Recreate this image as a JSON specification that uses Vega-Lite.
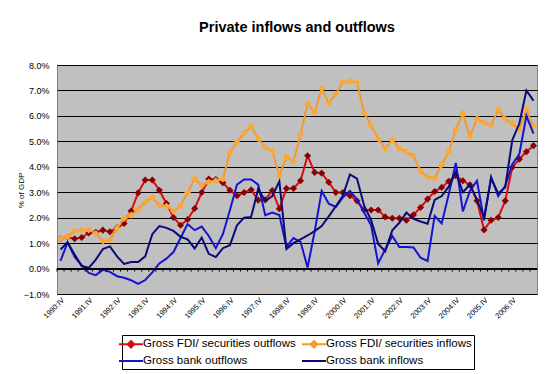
{
  "$schema": "https://vega.github.io/schema/vega-lite/v6.json",
  "width": 480,
  "height": 229,
  "autosize": {"type": "none"},
  "padding": {"left": 57, "top": 65, "right": 10, "bottom": 80},
  "background": "white",
  "title": {"text": "Private inflows and outflows", "font": "Liberation Sans", "fontSize": 14.5, "fontWeight": "bold", "color": "black", "anchor": "middle", "offset": 26},
  "data": {"values": [
    {"quarter": "1990:IV", "fdi_out": 1.17, "fdi_in": 1.17, "bank_out": 0.30, "bank_in": 0.75},
    {"quarter": "1991:I", "fdi_out": 1.24, "fdi_in": 1.25, "bank_out": 1.03, "bank_in": 1.03},
    {"quarter": "1991:II", "fdi_out": 1.17, "fdi_in": 1.48, "bank_out": 0.46, "bank_in": 0.55},
    {"quarter": "1991:III", "fdi_out": 1.22, "fdi_in": 1.52, "bank_out": 0.13, "bank_in": 0.10},
    {"quarter": "1991:IV", "fdi_out": 1.40, "fdi_in": 1.52, "bank_out": -0.17, "bank_in": 0.03},
    {"quarter": "1992:I", "fdi_out": 1.43, "fdi_in": 1.38, "bank_out": -0.26, "bank_in": 0.35},
    {"quarter": "1992:II", "fdi_out": 1.51, "fdi_in": 1.08, "bank_out": -0.05, "bank_in": 0.77},
    {"quarter": "1992:III", "fdi_out": 1.45, "fdi_in": 1.12, "bank_out": -0.13, "bank_in": 0.87},
    {"quarter": "1992:IV", "fdi_out": 1.60, "fdi_in": 1.58, "bank_out": -0.30, "bank_in": 0.48},
    {"quarter": "1993:I", "fdi_out": 1.77, "fdi_in": 1.97, "bank_out": -0.36, "bank_in": 0.18},
    {"quarter": "1993:II", "fdi_out": 2.26, "fdi_in": 2.10, "bank_out": -0.46, "bank_in": 0.26},
    {"quarter": "1993:III", "fdi_out": 2.98, "fdi_in": 2.33, "bank_out": -0.60, "bank_in": 0.26},
    {"quarter": "1993:IV", "fdi_out": 3.48, "fdi_in": 2.62, "bank_out": -0.45, "bank_in": 0.48},
    {"quarter": "1994:I", "fdi_out": 3.48, "fdi_in": 2.78, "bank_out": -0.15, "bank_in": 1.35},
    {"quarter": "1994:II", "fdi_out": 3.08, "fdi_in": 2.49, "bank_out": 0.20, "bank_in": 1.67},
    {"quarter": "1994:III", "fdi_out": 2.56, "fdi_in": 2.45, "bank_out": 0.39, "bank_in": 1.60},
    {"quarter": "1994:IV", "fdi_out": 2.01, "fdi_in": 2.25, "bank_out": 0.65, "bank_in": 1.48},
    {"quarter": "1995:I", "fdi_out": 1.70, "fdi_in": 2.47, "bank_out": 1.20, "bank_in": 1.25},
    {"quarter": "1995:II", "fdi_out": 1.93, "fdi_in": 2.98, "bank_out": 1.75, "bank_in": 1.15},
    {"quarter": "1995:III", "fdi_out": 2.36, "fdi_in": 3.54, "bank_out": 1.51, "bank_in": 0.79},
    {"quarter": "1995:IV", "fdi_out": 2.99, "fdi_in": 3.26, "bank_out": 1.65, "bank_in": 1.22},
    {"quarter": "1996:I", "fdi_out": 3.52, "fdi_in": 3.40, "bank_out": 1.28, "bank_in": 0.58},
    {"quarter": "1996:II", "fdi_out": 3.50, "fdi_in": 3.45, "bank_out": 0.80, "bank_in": 0.45},
    {"quarter": "1996:III", "fdi_out": 3.37, "fdi_in": 3.52, "bank_out": 1.35, "bank_in": 0.80},
    {"quarter": "1996:IV", "fdi_out": 3.08, "fdi_in": 4.57, "bank_out": 2.30, "bank_in": 0.92},
    {"quarter": "1997:I", "fdi_out": 2.86, "fdi_in": 4.96, "bank_out": 3.30, "bank_in": 1.70},
    {"quarter": "1997:II", "fdi_out": 2.99, "fdi_in": 5.33, "bank_out": 3.50, "bank_in": 2.00},
    {"quarter": "1997:III", "fdi_out": 3.10, "fdi_in": 5.57, "bank_out": 3.50, "bank_in": 2.03},
    {"quarter": "1997:IV", "fdi_out": 2.69, "fdi_in": 5.10, "bank_out": 3.30, "bank_in": 3.13},
    {"quarter": "1998:I", "fdi_out": 2.70, "fdi_in": 4.76, "bank_out": 2.10, "bank_in": 2.65},
    {"quarter": "1998:II", "fdi_out": 3.07, "fdi_in": 4.62, "bank_out": 2.20, "bank_in": 2.85},
    {"quarter": "1998:III", "fdi_out": 2.35, "fdi_in": 3.66, "bank_out": 2.10, "bank_in": 3.43},
    {"quarter": "1998:IV", "fdi_out": 3.15, "fdi_in": 4.38, "bank_out": 0.85, "bank_in": 0.77},
    {"quarter": "1999:I", "fdi_out": 3.15, "fdi_in": 4.22, "bank_out": 1.20, "bank_in": 1.00},
    {"quarter": "1999:II", "fdi_out": 3.45, "fdi_in": 5.27, "bank_out": 1.05, "bank_in": 1.15},
    {"quarter": "1999:III", "fdi_out": 4.43, "fdi_in": 6.47, "bank_out": 0.04, "bank_in": 1.30},
    {"quarter": "1999:IV", "fdi_out": 3.78, "fdi_in": 6.15, "bank_out": 1.45, "bank_in": 1.47},
    {"quarter": "2000:I", "fdi_out": 3.75, "fdi_in": 7.07, "bank_out": 3.05, "bank_in": 1.67},
    {"quarter": "2000:II", "fdi_out": 3.39, "fdi_in": 6.51, "bank_out": 2.55, "bank_in": 2.05},
    {"quarter": "2000:III", "fdi_out": 2.99, "fdi_in": 6.86, "bank_out": 2.42, "bank_in": 2.45},
    {"quarter": "2000:IV", "fdi_out": 2.99, "fdi_in": 7.33, "bank_out": 2.80, "bank_in": 2.86},
    {"quarter": "2001:I", "fdi_out": 2.86, "fdi_in": 7.36, "bank_out": 3.05, "bank_in": 3.70},
    {"quarter": "2001:II", "fdi_out": 2.66, "fdi_in": 7.31, "bank_out": 2.72, "bank_in": 3.53},
    {"quarter": "2001:III", "fdi_out": 2.30, "fdi_in": 6.12, "bank_out": 2.20, "bank_in": 2.48},
    {"quarter": "2001:IV", "fdi_out": 2.30, "fdi_in": 5.62, "bank_out": 1.70, "bank_in": 1.90},
    {"quarter": "2002:I", "fdi_out": 2.30, "fdi_in": 5.10, "bank_out": 0.20, "bank_in": 0.97},
    {"quarter": "2002:II", "fdi_out": 2.03, "fdi_in": 4.72, "bank_out": 0.76, "bank_in": 0.68},
    {"quarter": "2002:III", "fdi_out": 1.98, "fdi_in": 5.05, "bank_out": 1.28, "bank_in": 1.50},
    {"quarter": "2002:IV", "fdi_out": 1.98, "fdi_in": 4.72, "bank_out": 0.85, "bank_in": 1.80},
    {"quarter": "2003:I", "fdi_out": 1.90, "fdi_in": 4.58, "bank_out": 0.85, "bank_in": 2.20},
    {"quarter": "2003:II", "fdi_out": 2.11, "fdi_in": 4.43, "bank_out": 0.83, "bank_in": 1.95},
    {"quarter": "2003:III", "fdi_out": 2.40, "fdi_in": 3.83, "bank_out": 0.43, "bank_in": 1.85},
    {"quarter": "2003:IV", "fdi_out": 2.73, "fdi_in": 3.60, "bank_out": 0.30, "bank_in": 1.76},
    {"quarter": "2004:I", "fdi_out": 3.03, "fdi_in": 3.55, "bank_out": 2.07, "bank_in": 2.70},
    {"quarter": "2004:II", "fdi_out": 3.19, "fdi_in": 4.08, "bank_out": 1.77, "bank_in": 2.85},
    {"quarter": "2004:III", "fdi_out": 3.43, "fdi_in": 4.60, "bank_out": 2.92, "bank_in": 3.22},
    {"quarter": "2004:IV", "fdi_out": 3.65, "fdi_in": 5.47, "bank_out": 4.15, "bank_in": 3.80},
    {"quarter": "2005:I", "fdi_out": 3.45, "fdi_in": 6.10, "bank_out": 2.25, "bank_in": 3.00},
    {"quarter": "2005:II", "fdi_out": 3.29, "fdi_in": 5.18, "bank_out": 3.05, "bank_in": 3.30},
    {"quarter": "2005:III", "fdi_out": 2.66, "fdi_in": 5.89, "bank_out": 3.45, "bank_in": 2.70},
    {"quarter": "2005:IV", "fdi_out": 1.52, "fdi_in": 5.74, "bank_out": 1.90, "bank_in": 2.00},
    {"quarter": "2006:I", "fdi_out": 1.90, "fdi_in": 5.64, "bank_out": 3.60, "bank_in": 3.55},
    {"quarter": "2006:II", "fdi_out": 2.01, "fdi_in": 6.25, "bank_out": 2.85, "bank_in": 2.95},
    {"quarter": "2006:III", "fdi_out": 2.66, "fdi_in": 5.87, "bank_out": 3.25, "bank_in": 3.20},
    {"quarter": "2006:IV", "fdi_out": 3.98, "fdi_in": 5.70, "bank_out": 4.10, "bank_in": 5.05},
    {"quarter": "2007:I", "fdi_out": 4.30, "fdi_in": 5.46, "bank_out": 4.50, "bank_in": 5.70},
    {"quarter": "2007:II", "fdi_out": 4.59, "fdi_in": 6.25, "bank_out": 6.00, "bank_in": 7.00},
    {"quarter": "2007:III", "fdi_out": 4.83, "fdi_in": 5.58, "bank_out": 5.30, "bank_in": 6.60}
  ]},
  "config": {
    "view": {"fill": "#C0C0C0", "stroke": "#808080", "strokeWidth": 1},
    "axisY": {"domain": false, "ticks": false, "grid": true, "gridColor": "black", "gridOpacity": 1, "gridWidth": 1, "tickCount": 9, "labelFont": "Liberation Sans", "labelFontSize": 9, "labelColor": "black", "labelPadding": 8, "titleFont": "Liberation Sans", "titleFontSize": 8, "titleFontWeight": "normal", "titleColor": "black"},
    "axisX": {"domain": false, "ticks": false, "grid": false, "labelFont": "Liberation Sans", "labelFontSize": 7.5, "labelColor": "black"}
  },
  "layer": [
    {
      "mark": {"type": "line", "strokeWidth": 2},
      "encoding": {
        "x": {"field": "quarter", "type": "ordinal", "sort": null, "title": null,
              "scale": {"type": "band", "paddingInner": 0, "paddingOuter": 0},
              "axis": {"values": ["1990:IV","1991:IV","1992:IV","1993:IV","1994:IV","1995:IV","1996:IV","1997:IV","1998:IV","1999:IV","2000:IV","2001:IV","2002:IV","2003:IV","2004:IV","2005:IV","2006:IV"], "labelAngle": -45, "labelPadding": 2}},
        "y": {"field": "fdi_out", "type": "quantitative", "title": "% of GDP",
              "scale": {"domain": [-1, 8], "nice": false, "zero": false},
              "axis": {"grid": true, "gridColor": "black", "labelExpr": "format(datum.value, '.1f') + '%'", "titleAngle": -90, "titleX": -36, "titleY": 125, "titleAlign": "center", "titleBaseline": "middle"}},
        "color": {"datum": "Gross FDI/ securities outflows", "type": "nominal",
          "scale": {"domain": ["Gross FDI/ securities outflows", "Gross FDI/ securities inflows", "Gross bank outflows", "Gross bank inflows"], "range": ["#D80E0E", "#F39A2A", "#1414D2", "#0A0A78"]},
          "legend": {"title": null, "orient": "none", "legendX": 65, "legendY": 270, "columns": 2, "direction": "horizontal",
            "symbolType": "M-2,0L2,0", "symbolSize": 144, "symbolStrokeWidth": 2,
            "labelFont": "Liberation Sans", "labelFontSize": 11.5, "labelColor": "black", "labelLimit": 400, "labelOffset": 5,
            "columnPadding": 2, "rowPadding": 2, "padding": 2, "strokeColor": "black", "fillColor": "white",
            "encode": {"symbols": {"update": {
              "shape": {"signal": "indexof(datum.value, 'FDI') >= 0 ? 'M-2,0L2,0M0,-0.55L0.55,0L0,0.55L-0.55,0Z' : 'M-2,0L2,0'"},
              "fill": {"signal": "datum.value == 'Gross FDI/ securities outflows' ? '#8B0000' : (datum.value == 'Gross FDI/ securities inflows' ? '#FFA733' : 'transparent')"},
              "fillOpacity": {"value": 1}}}}}}
      }
    },
    {
      "mark": {"type": "point", "shape": "diamond", "filled": true, "size": 50, "color": "#8B0000", "opacity": 1},
      "encoding": {
        "x": {"field": "quarter", "type": "ordinal", "sort": null},
        "y": {"field": "fdi_out", "type": "quantitative", "title": "% of GDP"}
      }
    },
    {
      "mark": {"type": "line", "strokeWidth": 2},
      "encoding": {
        "x": {"field": "quarter", "type": "ordinal", "sort": null},
        "y": {"field": "fdi_in", "type": "quantitative", "title": "% of GDP"},
        "color": {"datum": "Gross FDI/ securities inflows", "type": "nominal"}
      }
    },
    {
      "mark": {"type": "point", "shape": "diamond", "filled": true, "size": 50, "color": "#FFA733", "opacity": 1},
      "encoding": {
        "x": {"field": "quarter", "type": "ordinal", "sort": null},
        "y": {"field": "fdi_in", "type": "quantitative", "title": "% of GDP"}
      }
    },
    {
      "mark": {"type": "line", "strokeWidth": 2},
      "encoding": {
        "x": {"field": "quarter", "type": "ordinal", "sort": null},
        "y": {"field": "bank_out", "type": "quantitative", "title": "% of GDP"},
        "color": {"datum": "Gross bank outflows", "type": "nominal"}
      }
    },
    {
      "mark": {"type": "line", "strokeWidth": 2},
      "encoding": {
        "x": {"field": "quarter", "type": "ordinal", "sort": null},
        "y": {"field": "bank_in", "type": "quantitative", "title": "% of GDP"},
        "color": {"datum": "Gross bank inflows", "type": "nominal"}
      }
    },
    {
      "mark": {"type": "rule", "color": "black", "strokeWidth": 1},
      "encoding": {
        "y": {"datum": 0, "type": "quantitative"}
      }
    },
    {
      "mark": {"type": "rule", "color": "black", "strokeWidth": 1},
      "encoding": {
        "x": {"field": "quarter", "type": "ordinal", "sort": null, "bandPosition": 0},
        "y": {"datum": 0, "type": "quantitative"},
        "y2": {"datum": -0.12}
      }
    }
  ]
}
